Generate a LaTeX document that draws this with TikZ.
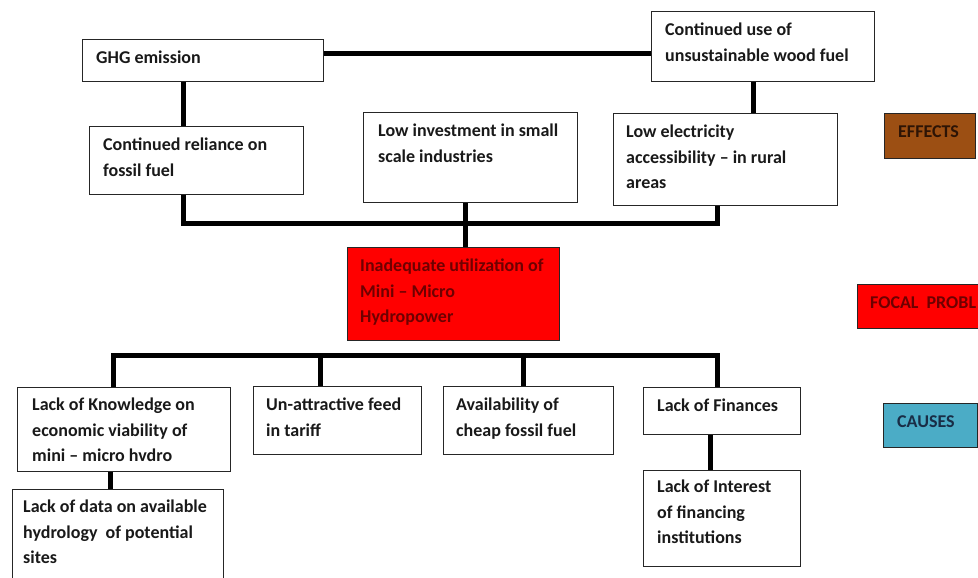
\documentclass[tikz,border=0pt]{standalone}
\usepackage{fontspec}
\setmainfont{Carlito}
\definecolor{effectbrown}{RGB}{156,79,19}
\definecolor{causeblue}{RGB}{75,172,198}
\definecolor{focalred}{RGB}{255,0,0}
\begin{document}
\begin{tikzpicture}[x=1pt,y=-1pt,
  box/.style={draw=black!85, line width=1.3pt, anchor=north west, inner sep=0pt, fill=white},
  txt/.style={anchor=north west, inner sep=0pt, align=left,
    font=\fontsize{18}{25.5}\selectfont\bfseries, text=black!90},
  link/.style={line width=5pt, line join=miter, draw=black}]
\clip (0,0) rectangle (978,578);

% effects row
\node[box, minimum width=241pt, minimum height=42pt] (ghg) at (82,39) {};
\node[box, minimum width=223pt, minimum height=70pt] (cuse) at (651,11) {};
\node[box, minimum width=214pt, minimum height=68pt] (rel) at (89,126) {};
\node[box, minimum width=214pt, minimum height=90pt] (inv) at (363,112) {};
\node[box, minimum width=224pt, minimum height=92pt] (elec) at (613,113) {};

% focal problem
\node[box, fill=focalred, minimum width=212pt, minimum height=93pt] (focal) at (347,247) {};

% causes row
\node[box, minimum width=213pt, minimum height=84pt] (know) at (17,387) {};
\node[box, minimum width=211pt, minimum height=120pt] (data) at (12,489) {};
\node[box, minimum width=168pt, minimum height=68pt] (tariff) at (253,386) {};
\node[box, minimum width=170pt, minimum height=68pt] (cheap) at (443,386) {};
\node[box, minimum width=157pt, minimum height=47pt] (fin) at (643,387) {};
\node[box, minimum width=157pt, minimum height=96pt] (interest) at (643,470) {};

% legend
\node[box, fill=effectbrown, minimum width=91pt, minimum height=45pt] (effects) at (884,113) {};
\node[box, fill=focalred, minimum width=160pt, minimum height=44pt] (focallbl) at (857,284) {};
\node[box, fill=causeblue, minimum width=94pt, minimum height=44pt] (causes) at (883,403) {};

% box texts
\node[txt] (ghg-t) at ([xshift=14pt,yshift=-12pt]ghg.north west) {GHG emission};
\node[txt] (cuse-t) at ([xshift=14pt,yshift=-12pt]cuse.north west) {Continued use of\\unsustainable wood fuel};
\node[txt] (rel-t) at ([xshift=14pt,yshift=-12pt]rel.north west) {Continued reliance on\\fossil fuel};
\node[txt] (inv-t) at ([xshift=15pt,yshift=-12pt]inv.north west) {Low investment in small\\scale industries};
\node[txt] (elec-t) at ([xshift=13pt,yshift=-12pt]elec.north west) {Low electricity\\accessibility – in rural\\areas};
\node[txt, text={rgb,255:red,110;green,0;blue,0}] (focal-t) at ([xshift=13pt,yshift=-12pt]focal.north west) {Inadequate utilization of\\Mini – Micro\\Hydropower};
\node[txt] (know-t) at ([xshift=15pt,yshift=-11pt]know.north west) {Lack of Knowledge on\\economic viability of\\mini – micro hvdro};
\node[txt] (data-t) at ([xshift=11pt,yshift=-11pt]data.north west) {Lack of data on available\\hydrology~ of potential\\sites};
\node[txt] (tariff-t) at ([xshift=13pt,yshift=-12pt]tariff.north west) {Un-attractive feed\\in tariff};
\node[txt] (cheap-t) at ([xshift=13pt,yshift=-12pt]cheap.north west) {Availability of\\cheap fossil fuel};
\node[txt] (fin-t) at ([xshift=14pt,yshift=-12pt]fin.north west) {Lack of Finances};
\node[txt] (interest-t) at ([xshift=14pt,yshift=-10pt]interest.north west) {Lack of Interest\\of financing\\institutions};
\node[txt, text={rgb,255:red,45;green,20;blue,5}] (effects-t) at ([xshift=14pt,yshift=-12pt]effects.north west) {EFFECTS};
\node[txt, text={rgb,255:red,110;green,0;blue,0}] (focallbl-t) at ([xshift=13pt,yshift=-12pt]focallbl.north west) {FOCAL~ PROBL};
\node[txt, text={rgb,255:red,25;green,45;blue,70}] (causes-t) at ([xshift=14pt,yshift=-12pt]causes.north west) {CAUSES};

% connector levels and columns
\coordinate (topbus) at (0,54);
\coordinate (ebus) at (0,223);
\coordinate (cbus) at (0,355.5);
\coordinate (xg) at (183,0);
\coordinate (xw) at (753,0);
\coordinate (xe) at (717,0);
\coordinate (xi) at (465.5,0);
\coordinate (xk) at (113,0);
\coordinate (xt) at (320,0);
\coordinate (xc) at (523,0);
\coordinate (xd) at (110,0);
\coordinate (xf) at (710,0);

% connectors between effects
\draw[link] (ghg.east |- topbus) -- (cuse.west |- topbus);
\draw[link] (ghg.south -| xg) -- (rel.north -| xg);
\draw[link] (cuse.south -| xw) -- (elec.north -| xw);
\draw[link] (rel.south -| xg) -- (xg |- ebus) -- (xe |- ebus) -- (elec.south -| xe);
\draw[link] (inv.south -| xi) -- (focal.north -| xi);

% connectors between causes
\draw[link] (know.north -| xk) -- (xk |- cbus) -- (xe |- cbus) -- (fin.north -| xe);
\draw[link] (tariff.north -| xt) -- (xt |- cbus);
\draw[link] (cheap.north -| xc) -- (xc |- cbus);
\draw[link] (know.south -| xd) -- (data.north -| xd);
\draw[link] (fin.south -| xf) -- (interest.north -| xf);
\end{tikzpicture}
\end{document}
